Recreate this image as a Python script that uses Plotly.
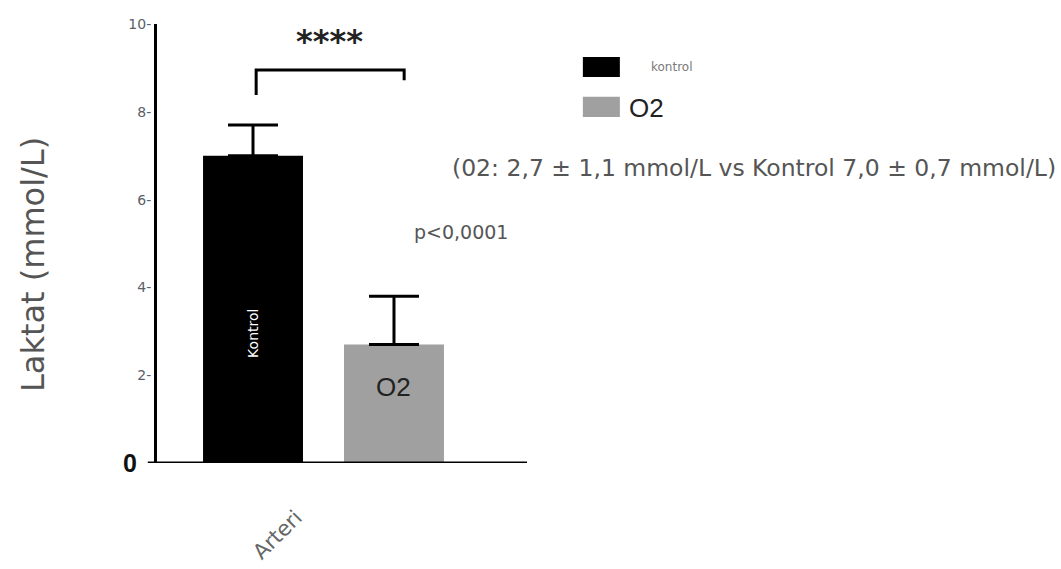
import plotly.graph_objects as go

# Lactate values (mmol/L), mean and SD per group
groups = ["Kontrol", "O2"]
means = [7.0, 2.7]
sds = [0.7, 1.1]
colors = ["#000000", "#a0a0a0"]
category = "Arteri"

y_ticks = [2, 4, 6, 8, 10]
y_ticktext = ["2-", "4-", "6-", "8-", "10-"]

summary_text = "(02: 2,7 ± 1,1 mmol/L vs Kontrol 7,0 ± 0,7 mmol/L)"
p_text = "p<0,0001"
sig_text = "****"

# bracket heights (mmol/L) for the significance marker
bracket_top = 8.95
bracket_left_end = 8.38
bracket_right_end = 8.72

FONT = "Arial, Liberation Sans, sans-serif"
WIDE = "DejaVu Sans, Verdana, sans-serif"

fig = go.Figure()
for name, m, s, c in zip(groups, means, sds, colors):
    fig.add_trace(go.Bar(
        x=[category], y=[m], name=name,
        marker=dict(color=c, line=dict(width=0)),
        error_y=dict(type="data", symmetric=False, array=[s], arrayminus=[0],
                     color="#000000", thickness=3, width=25),
        showlegend=False,
    ))

fig.update_layout(
    width=1061, height=569,
    margin=dict(l=157, r=534, t=24, b=106, autoexpand=False),
    plot_bgcolor="white", paper_bgcolor="white",
    barmode="group", bargap=0.238, bargroupgap=0.291,
    font=dict(family=FONT),
)
fig.update_xaxes(range=[-0.45, 0.55], showticklabels=False, ticks="",
                 showgrid=False, zeroline=False, showline=False)
fig.update_yaxes(range=[0, 10], tickvals=y_ticks, ticktext=y_ticktext,
                 tickfont=dict(size=14, color="#5a5f6a", family=WIDE), ticks="",
                 showgrid=False, zeroline=False,
                 showline=True, linecolor="#000000", linewidth=3)

shapes = []
# x axis baseline, extending slightly left of the y axis
shapes.append(dict(type="line", xref="paper", yref="y", x0=-0.025, x1=1.0, y0=0, y1=0,
                   line=dict(color="#000000", width=3)))
# significance bracket
bx0, bx1 = 0.268, 0.668
shapes.append(dict(type="path", xref="paper", yref="y",
                   path=f"M {bx0},{bracket_left_end} L {bx0},{bracket_top} L {bx1},{bracket_top} L {bx1},{bracket_right_end}",
                   line=dict(color="#000000", width=3)))
# legend swatches
shapes.append(dict(type="rect", xref="paper", yref="paper", x0=1.151, x1=1.251, y0=0.879, y1=0.925,
                   fillcolor=colors[0], line=dict(width=0)))
shapes.append(dict(type="rect", xref="paper", yref="paper", x0=1.151, x1=1.251, y0=0.788, y1=0.834,
                   fillcolor=colors[1], line=dict(width=0)))
fig.update_layout(shapes=shapes)

ann = []
def add(text, x, y, size, color="#555555", angle=0, xanchor="center", yanchor="middle", family=FONT):
    ann.append(dict(text=text, x=x, y=y, xref="paper", yref="paper", showarrow=False,
                    font=dict(size=size, color=color, family=family), textangle=angle,
                    xanchor=xanchor, yanchor=yanchor))

add("<b>0</b>", -0.072, 0.0, 25, "#111111")
add("Laktat (mmol/L)", -0.335, 0.451, 32, "#555555", angle=-90, family=WIDE)
add("<b>" + sig_text + "</b>", 0.467, 0.962, 32, "#222222", family=WIDE)
add("kontrol", 1.33, 0.902, 12, "#7a7a7a", xanchor="left", family=WIDE)
add("O2", 1.27, 0.809, 26, "#222222", xanchor="left")
add(summary_text, 1.614, 0.672, 23.5, "#555555", family=WIDE)
add(p_text, 0.822, 0.526, 19, "#555555", family=WIDE)
add("Kontrol", 0.259, 0.296, 14, "#ffffff", angle=-90, family=WIDE)
add("O2", 0.638, 0.173, 26, "#222222")
add(category, 0.325, -0.163, 21, "#666666", angle=-45, family=WIDE)
fig.update_layout(annotations=ann)

fig.write_html("out.html")
